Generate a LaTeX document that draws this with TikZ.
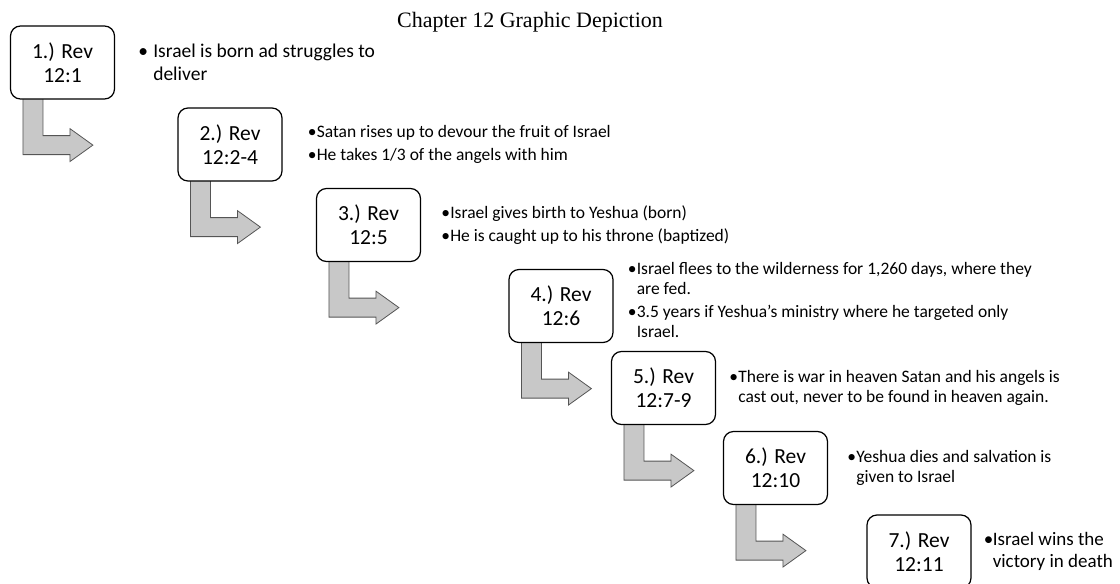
\documentclass[tikz,border=0pt]{standalone}
\usepackage{fontspec}
\setmainfont{Carlito}
\newfontfamily\titlefont{Liberation Serif}
\definecolor{arrowfill}{RGB}{200,200,200}
\definecolor{arrowline}{RGB}{85,85,85}
\newcommand{\bA}[1]{\makebox[9pt][l]{\textbullet}#1}
\newcommand{\bC}[1]{\hspace*{9pt}#1}
\newcommand{\stepArrow}[1]{%
  \draw[bendarrow] ([shift={(13pt,3pt)}]#1.south west) -- ++(0,58) -- ++(47,0) -- ++(0,7)
    -- ++(23,-16.5) -- ++(-23,-16.5) -- ++(0,7) -- ++(-27,0) -- ++(0,-39) -- cycle;}
\begin{document}
\begin{tikzpicture}[x=1pt,y=-1pt,
  stepbox/.style={draw=black, line width=1.2pt, rounded corners=10pt, fill=white,
    minimum width=104pt, minimum height=73pt, align=center, inner sep=0pt,
    font=\fontsize{21.5}{24}\selectfont},
  bul/.style={anchor=west, align=left, inner sep=0pt, font=\fontsize{17.5}{20}\selectfont},
  bendarrow/.style={draw=arrowline, fill=arrowfill, line width=0.8pt, line join=miter}]
\useasboundingbox (0,0) rectangle (1120,584);
\clip (0,0) rectangle (1120,584);
\node[font=\titlefont\fontsize{22}{24}\selectfont, anchor=base] (title) at (530,27) {Chapter 12 Graphic Depiction};
% box positions
\coordinate (c1) at (62.5,62.5);
\coordinate (c2) at (230,144.5);
\coordinate (c3) at (368.5,225);
\coordinate (c4) at (561,306);
\coordinate (c5) at (663.5,388);
\coordinate (c6) at (775.5,468);
\coordinate (c7) at (919,551.5);
% invisible placeholders giving anchors for the bent arrows (drawn behind the boxes)
\foreach \i in {1,...,6}{\path (c\i) node[stepbox, draw=none, fill=none] (p\i) {};}
\foreach \i in {1,...,6}{\stepArrow{p\i}}
\node[stepbox] (b1) at (c1) {1.) Rev\\12:1};
\node[stepbox] (b2) at (c2) {2.) Rev\\12:2-4};
\node[stepbox] (b3) at (c3) {3.) Rev\\12:5};
\node[stepbox] (b4) at (c4) {4.) Rev\\12:6};
\node[stepbox] (b5) at (c5) {5.) Rev\\12:7-9};
\node[stepbox] (b6) at (c6) {6.) Rev\\12:10};
\node[stepbox] (b7) at (c7) {7.) Rev\\12:11};
% bullet texts
\node[bul, font=\fontsize{19.5}{23}\selectfont] (t1) at ([xshift=23pt]b1.east)
  {\makebox[15pt][l]{\textbullet}Israel is born ad struggles to\\\hspace*{15pt}deliver};
\node[bul] (t2) at ([xshift=25pt]b2.east)
  {\bA{Satan rises up to devour the fruit of Israel}\\[3pt]\bA{He takes 1/3 of the angels with him}};
\node[bul] (t3) at ([xshift=20pt]b3.east)
  {\bA{Israel gives birth to Yeshua (born)}\\[3pt]\bA{He is caught up to his throne (baptized)}};
\node[bul] (t4) at ([xshift=14pt,yshift=6pt]b4.east)
  {\bA{Israel flees to the wilderness for 1,260 days, where they}\\\bC{are fed.}\\[3pt]
   \bA{3.5 years if Yeshua’s ministry where he targeted only}\\\bC{Israel.}};
\node[bul] (t5) at ([xshift=13pt]b5.east)
  {\bA{There is war in heaven Satan and his angels is}\\\bC{cast out, never to be found in heaven again.}};
\node[bul] (t6) at ([xshift=19pt]b6.east)
  {\bA{Yeshua dies and salvation is}\\\bC{given to Israel}};
\node[bul, font=\fontsize{19}{22}\selectfont] (t7) at ([xshift=12pt]b7.east)
  {\bA{Israel wins the}\\\bC{victory in death}};
\end{tikzpicture}
\end{document}
